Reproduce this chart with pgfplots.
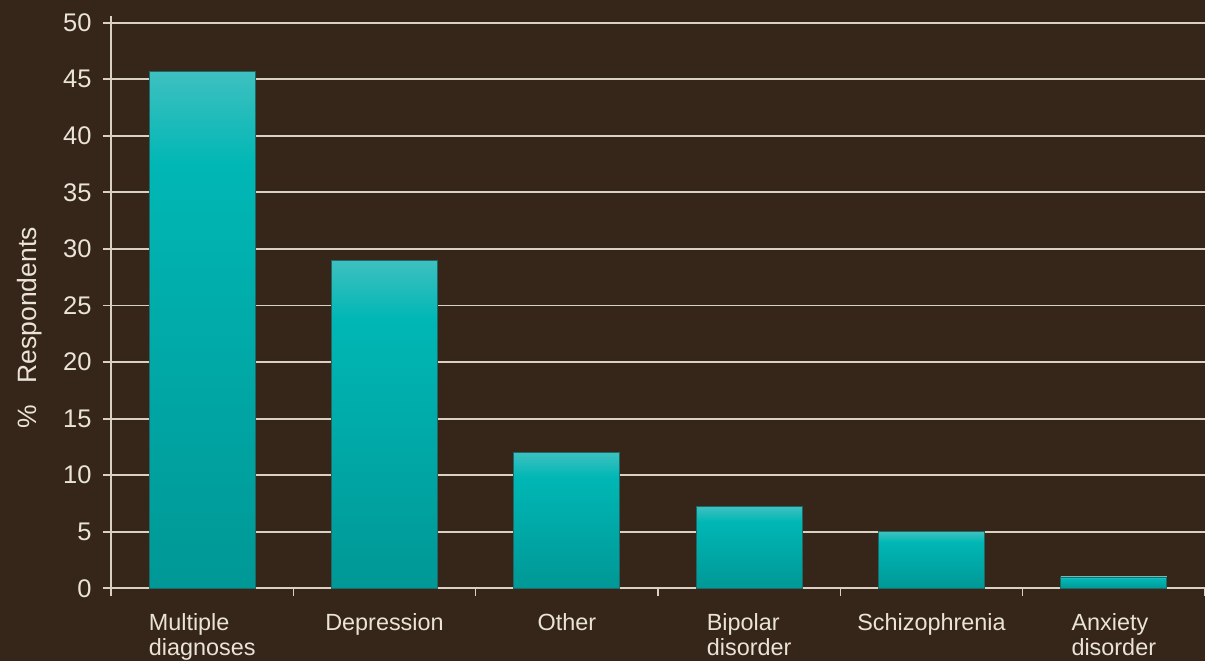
\documentclass[border=0pt]{standalone}
\usepackage{pgfplots}
\pgfplotsset{compat=1.18}
\usepackage{fontspec}
\setmainfont{Liberation Sans}
\definecolor{bg}{RGB}{54,38,26}
\definecolor{fg}{RGB}{234,228,214}
\definecolor{gridc}{RGB}{216,209,196}
\definecolor{tlight}{RGB}{62,192,192}
\definecolor{tmid}{RGB}{0,183,181}
\definecolor{tdark}{RGB}{0,152,150}
\definecolor{tedge}{RGB}{30,105,102}
\pgfdeclareverticalshading{barshade}{100bp}{color(0bp)=(tdark); color(25bp)=(tdark); color(66bp)=(tmid); color(75bp)=(tlight); color(100bp)=(tlight)}
\begin{document}
\begin{tikzpicture}
\useasboundingbox (-111pt,-72.7pt) rectangle (1094pt,588.3pt);
\fill[bg] (-111pt,-72.7pt) rectangle (1094pt,588.3pt);
\begin{axis}[
  at={(0pt,0pt)}, anchor=south west,
  scale only axis, width=1094pt, height=572.6pt,
  xmin=-0.5, xmax=5.5, ymin=0, ymax=50.62,
  axis x line=bottom, axis y line=left,
  axis line style={-, draw=gridc, line width=1.6pt},
  ytick={0,5,...,50},
  ymajorgrids, grid style={gridc, line width=1.8pt},
  xtick={0,...,5},
  xticklabels={{Multiple\\diagnoses},Depression,Other,{Bipolar\\disorder},Schizophrenia,{Anxiety\\disorder}},
  minor xtick={-0.5,0.5,...,5.5},
  tick align=outside,
  major tick length=8pt, minor tick length=8pt,
  major x tick style={draw=none},
  minor x tick style={draw=gridc, line width=1.5pt},
  major y tick style={draw=gridc, line width=1.8pt},
  /pgf/number format/assume math mode=true,
  tick label style={color=fg},
  yticklabel style={font=\fontsize{25.5}{28}\selectfont, xshift=-8pt},
  xticklabel style={font=\fontsize{23.4}{24.5}\selectfont, align=left, anchor=north, yshift=-14pt},
  ylabel={\%\hspace{0.8em}Respondents},
  ylabel style={font=\fontsize{26.5}{28}\selectfont, color=fg, at={(axis description cs:-0.074,0.455)}, anchor=center},
  mybar/.style={ybar, bar width=0.582, bar shift=0pt, shading=barshade, draw=tedge, line width=0.8pt},
]
\addplot[mybar] coordinates {(0,45.7)};
\addplot[mybar] coordinates {(1,29.0)};
\addplot[mybar] coordinates {(2,12.0)};
\addplot[mybar] coordinates {(3,7.2)};
\addplot[mybar] coordinates {(4,5.0)};
\addplot[mybar] coordinates {(5,1.0)};
\end{axis}
\end{tikzpicture}
\end{document}
